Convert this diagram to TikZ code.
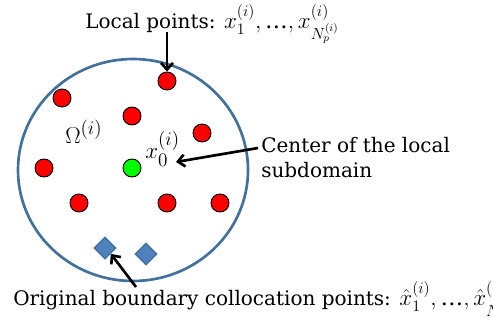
\documentclass[tikz,border=0pt]{standalone}
\usepackage{amsmath}
\usepackage{fontspec}
\setmainfont{DejaVu Serif}
\usetikzlibrary{arrows.meta, positioning, shapes.geometric, calc}
\definecolor{rimblue}{RGB}{65, 113, 156}
\definecolor{bndblue}{RGB}{79, 129, 189}
\definecolor{dotred}{RGB}{255, 0, 0}
\definecolor{dotgreen}{RGB}{0, 255, 0}
\newcommand{\lblmath}[1]{{\fontsize{17}{20}\selectfont$#1$}}
\newcommand{\ellip}{\text{…}}
\tikzset{
  domnode/.style={ellipse, draw=rimblue, line width=2pt, minimum width=172.5pt, minimum height=166.5pt, inner sep=0pt},
  locpt/.style={circle, draw=black, line width=0.7pt, fill=dotred, minimum size=13.5pt, inner sep=0pt},
  ctrpt/.style={locpt, fill=dotgreen},
  bndpt/.style={diamond, draw=rimblue, line width=1pt, fill=bndblue, minimum size=16.5pt, inner sep=0pt},
  lbl/.style={font=\fontsize{15}{19}\selectfont, inner sep=0pt},
  mathlbl/.style={font=\fontsize{19}{22}\selectfont, inner sep=0pt},
  ptarrow/.style={-{Straight Barb[length=5pt, width=9pt]}, line width=2pt, black},
}
\begin{document}
\begin{tikzpicture}[x=0.75pt, y=-0.75pt]
  \useasboundingbox (0,0) rectangle (493,329);
  \node[domnode] (dom) at (133,170) {};
  % local and centre points
  \foreach \n/\x/\y in {p1/167/81, p2/62/98, p3/132/116, p4/202/133, p5/44/168, p6/79/203, p7/167/203, p8/220/203}
    \node[locpt] (\n) at (\x,\y) {};
  \node[ctrpt] (c) at (132,168) {};
  \foreach \n/\x/\y in {b1/105/248, b2/146/254}
    \node[bndpt] (\n) at (\x,\y) {};
  % labels
  \node[mathlbl, anchor=base west] (omega) at (65,143) {$\Omega^{(i)}$};
  \node[mathlbl, anchor=base west] (xzero) at (145,158) {$x_0^{(i)}$};
  \node[lbl, anchor=base west] (loclbl) at (85,28) {Local points: \lblmath{x_1^{(i)},\ellip, x_{N_p^{(i)}}^{(i)}}};
  \node[lbl, anchor=north west, align=left] (ctrlbl) at (261,137) {Center of the local\\ subdomain};
  \node[lbl, anchor=base west] (botlbl) at (13,305) {Original boundary collocation points: \lblmath{\hat{x}_1^{(i)},\ellip, \hat{x}_{N_b^{(i)}}^{(i)}}};
  \coordinate (loctail) at (167,32);
  \coordinate (ctrtail) at (258,148);
  \coordinate (ctrhead) at (176,162);
  \coordinate (bndtail) at (136,287);
  \draw[ptarrow] (loctail) -- (p1.north);
  \draw[ptarrow] (ctrtail) -- (ctrhead);
  \draw[ptarrow] (bndtail) -- (b1.south east);
\end{tikzpicture}
\end{document}
